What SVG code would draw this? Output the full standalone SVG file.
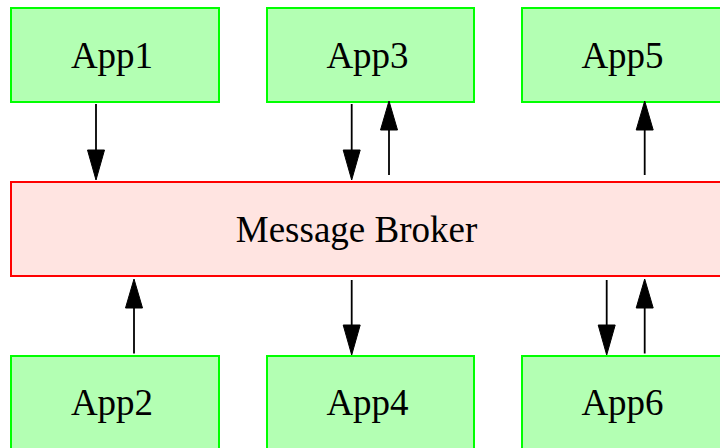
<svg xmlns="http://www.w3.org/2000/svg" width="720" height="448" viewBox="0 0 720 448">
<defs>
<style>
.app rect{fill:#b3ffb3;stroke:#00ff00;stroke-width:2}
.broker rect{fill:#ffe4e1;stroke:#ff0000;stroke-width:2}
text{font-family:"Liberation Serif","Times New Roman",serif;font-size:37px;fill:#000;text-anchor:middle}
.edges line{stroke:#000;stroke-width:1.8}
.edges polygon{fill:#000;stroke:#000;stroke-width:1}
</style>
</defs>
<rect width="720" height="448" fill="#fff"/>
<g id="App1" class="app"><rect x="11" y="8" width="208" height="94"/><text x="112" y="67.5">App1</text></g>
<g id="App3" class="app"><rect x="267" y="8" width="207" height="94"/><text x="367.5" y="67.5">App3</text></g>
<g id="App5" class="app"><rect x="522" y="8" width="208" height="94"/><text x="622.5" y="67.5">App5</text></g>
<g id="Broker" class="broker"><rect x="11" y="182" width="719" height="94"/><text x="356.5" y="242">Message Broker</text></g>
<g id="App2" class="app"><rect x="11" y="356" width="208" height="94"/><text x="112" y="415">App2</text></g>
<g id="App4" class="app"><rect x="267" y="356" width="207" height="94"/><text x="367.5" y="415">App4</text></g>
<g id="App6" class="app"><rect x="522" y="356" width="208" height="94"/><text x="622.5" y="415">App6</text></g>
<g id="connectors" class="edges">
<line x1="96" y1="104" x2="96" y2="152"/><polygon points="87.5,150 104.5,150 96,180"/>
<line x1="351.7" y1="104" x2="351.7" y2="152"/><polygon points="343.2,150 360.2,150 351.7,180"/>
<line x1="389" y1="175" x2="389" y2="128"/><polygon points="380.5,130 397.5,130 389,101"/>
<line x1="644.7" y1="175" x2="644.7" y2="128"/><polygon points="636.2,130 653.2,130 644.7,101"/>
<line x1="134" y1="353.5" x2="134" y2="306"/><polygon points="125.5,308 142.5,308 134,279"/>
<line x1="351.7" y1="280" x2="351.7" y2="327"/><polygon points="343.2,325 360.2,325 351.7,355"/>
<line x1="606.7" y1="280" x2="606.7" y2="327"/><polygon points="598.2,325 615.2,325 606.7,355"/>
<line x1="644.7" y1="353.5" x2="644.7" y2="306"/><polygon points="636.2,308 653.2,308 644.7,279"/>
</g>
</svg>
